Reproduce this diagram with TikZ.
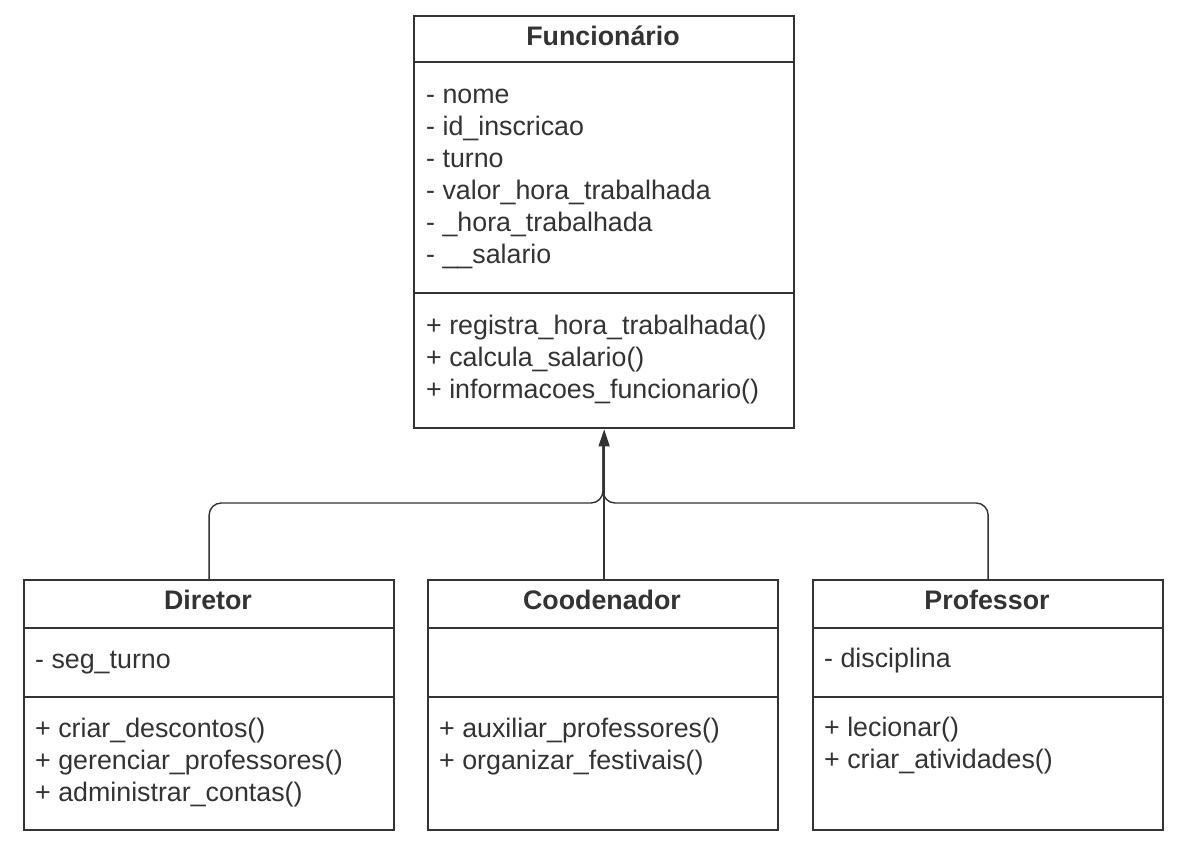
\documentclass[tikz,border=0pt]{standalone}
\usepackage{fontspec}
\setmainfont{Liberation Sans}
\usetikzlibrary{arrows.meta}
\definecolor{ink}{HTML}{333333}
\begin{document}
\begin{tikzpicture}[x=1pt,y=-1pt,
  umlbox/.style={draw=ink, line width=2.3pt, inner sep=0pt, anchor=north west},
  divider/.style={draw=ink, line width=2.3pt},
  classtitle/.style={font=\fontsize{26.8}{32}\selectfont\bfseries, text=ink, anchor=base, inner sep=0pt},
  member/.style={font=\fontsize{26.8}{32}\selectfont, text=ink, anchor=base west, inner sep=0pt},
  conn/.style={draw=ink, line width=1.4pt, rounded corners=12pt}]
\fill[white] (0,0) rectangle (1195,863);
\useasboundingbox (0,0) rectangle (1195,863);

% Funcionario
\node[umlbox, minimum width=380pt, minimum height=412pt] (func) at (413,15) {};
\draw[divider] (413,62) -- (793,62);
\draw[divider] (413,293) -- (793,293);
\node[classtitle] (functitle) at (603,45) {Funcionário};
\node[member] (fa1) at (426,103) {- nome};
\node[member] (fa2) at (426,135) {- id\_inscricao};
\node[member] (fa3) at (426,167) {- turno};
\node[member] (fa4) at (426,199) {- valor\_hora\_trabalhada};
\node[member] (fa5) at (426,231) {- \_hora\_trabalhada};
\node[member] (fa6) at (426,263) {- \_\_salario};
\node[member] (fm1) at (426,334) {+ registra\_hora\_trabalhada()};
\node[member] (fm2) at (426,366) {+ calcula\_salario()};
\node[member] (fm3) at (426,398) {+ informacoes\_funcionario()};

% Diretor
\node[umlbox, minimum width=370pt, minimum height=250pt] (dir) at (23,579) {};
\draw[divider] (23,628) -- (393,628);
\draw[divider] (23,697) -- (393,697);
\node[classtitle] (dirtitle) at (208,609) {Diretor};
\node[member] (da1) at (35,668) {- seg\_turno};
\node[member] (dm1) at (35,737) {+ criar\_descontos()};
\node[member] (dm2) at (35,769) {+ gerenciar\_professores()};
\node[member] (dm3) at (35,801) {+ administrar\_contas()};

% Coodenador
\node[umlbox, minimum width=350pt, minimum height=250pt] (cood) at (427,579) {};
\draw[divider] (427,628) -- (777,628);
\draw[divider] (427,697) -- (777,697);
\node[classtitle] (coodtitle) at (602,609) {Coodenador};
\node[member] (cm1) at (439,737) {+ auxiliar\_professores()};
\node[member] (cm2) at (439,769) {+ organizar\_festivais()};

% Professor
\node[umlbox, minimum width=350pt, minimum height=250pt] (prof) at (812,579) {};
\draw[divider] (812,628) -- (1162,628);
\draw[divider] (812,697) -- (1162,697);
\node[classtitle] (proftitle) at (987,609) {Professor};
\node[member] (pa1) at (824,667) {- disciplina};
\node[member] (pm1) at (824,736) {+ lecionar()};
\node[member] (pm2) at (824,768) {+ criar\_atividades()};

% Connectors
\coordinate (join) at (603,503);
\coordinate (tipbase) at (603,444);
\coordinate (coodtop) at (cood.north -| func.south);
\draw[conn] (dir.north) |- (join) -- (tipbase);
\draw[conn] (prof.north) |- (join) -- (tipbase);
\draw[draw=ink, line width=1.4pt, -{Triangle[length=17pt,width=11pt]}] (coodtop) -- (func.south);
\end{tikzpicture}
\end{document}
